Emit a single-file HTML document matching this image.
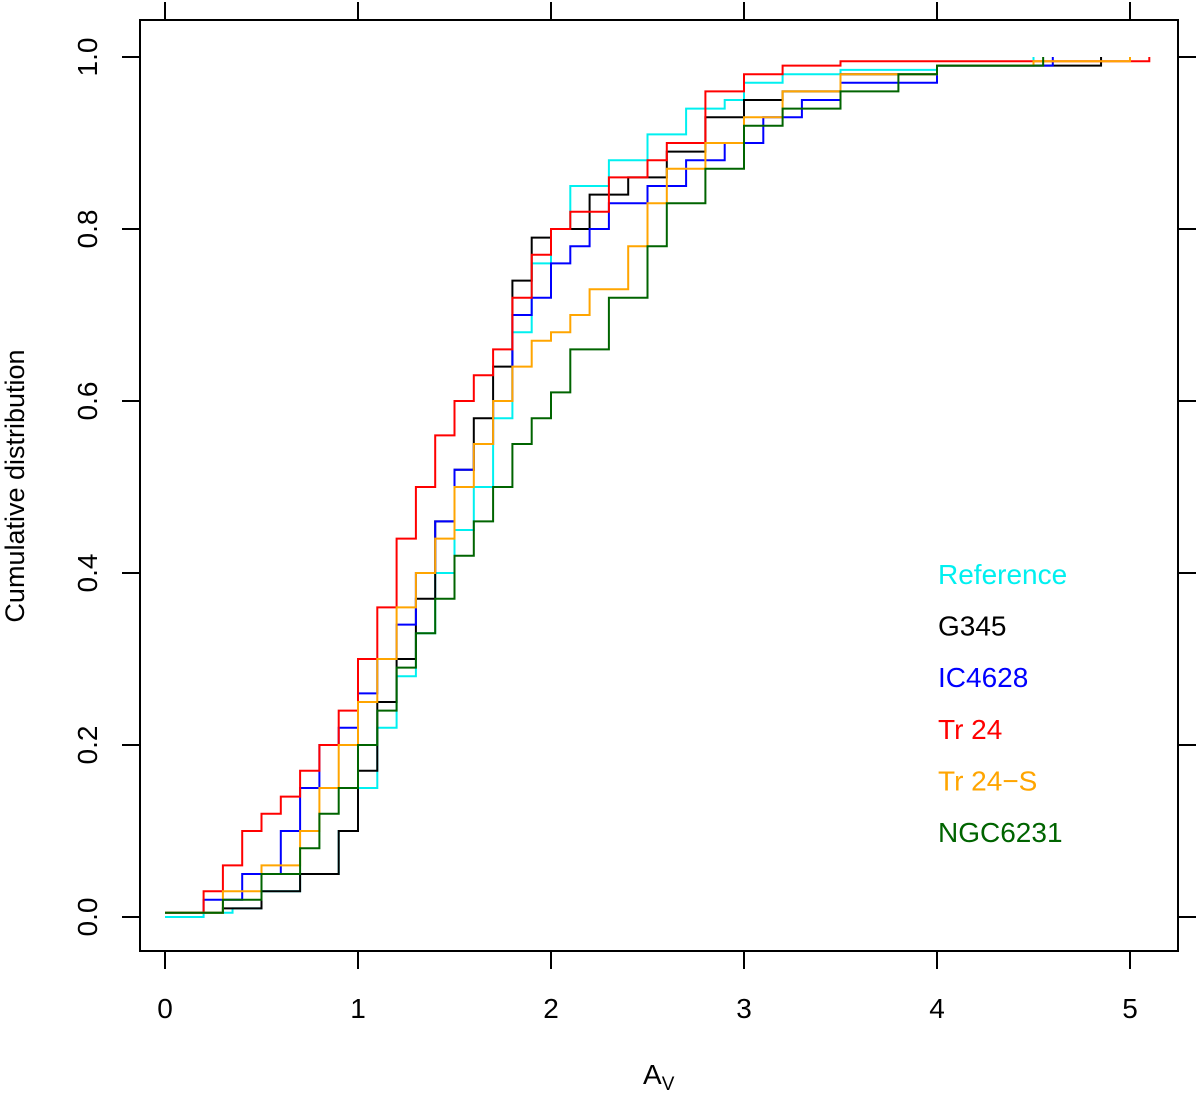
<!DOCTYPE html>
<html><head><meta charset="utf-8"><style>
body{margin:0;background:#fff;}
svg text{font-family:"Liberation Sans",sans-serif;}
</style></head><body>
<svg id="chart" width="1200" height="1092" xmlns="http://www.w3.org/2000/svg">
<rect x="140" y="20" width="1038" height="931" fill="none" stroke="#000" stroke-width="2"/>
<g id="axes"></g>
<g id="series"></g>
<text x="24" y="486" font-size="27" text-anchor="middle" transform="rotate(-90 24 486)">Cumulative distribution</text>
<text x="643" y="1084" font-size="28">A<tspan font-size="19" dy="6">V</tspan></text>
<g id="legend"></g>
</svg>
<script>
const xTicks=[0,1,2,3,4,5];
const yTicks=[0,0.2,0.4,0.6,0.8,1.0];
const yTickLabels=["0.0","0.2","0.4","0.6","0.8","1.0"];
const seriesNames=["Reference","G345","IC4628","Tr 24","Tr 24\u2212S","NGC6231"];
const seriesColors=["#00f0f0","#000000","#0000ff","#ff0000","#ffa500","#006400"];
const refX=[0,0.2,0.35,0.5,0.7,0.9,1.0,1.1,1.2,1.3,1.4,1.5,1.6,1.7,1.8,1.9,2.0,2.1,2.3,2.5,2.7,2.9,3.0,3.2,3.5,4.0,4.5];
const refY=[0,0.005,0.01,0.03,0.05,0.1,0.15,0.22,0.28,0.33,0.4,0.45,0.5,0.58,0.68,0.76,0.8,0.85,0.88,0.91,0.94,0.95,0.97,0.98,0.985,0.99,1.0];
const g345X=[0,0.3,0.5,0.7,0.9,1.0,1.1,1.2,1.3,1.4,1.5,1.6,1.7,1.8,1.9,2.0,2.2,2.4,2.6,2.8,3.0,3.2,3.5,4.0,4.85];
const g345Y=[0.005,0.01,0.03,0.05,0.1,0.17,0.25,0.3,0.37,0.46,0.52,0.58,0.64,0.74,0.79,0.8,0.84,0.86,0.89,0.93,0.95,0.96,0.98,0.99,1.0];
const icX=[0,0.2,0.4,0.6,0.7,0.8,0.9,1.0,1.1,1.2,1.3,1.4,1.5,1.6,1.7,1.8,1.9,2.0,2.1,2.2,2.3,2.5,2.7,2.9,3.1,3.3,3.5,4.0,4.6];
const icY=[0.005,0.02,0.05,0.1,0.15,0.2,0.22,0.26,0.3,0.34,0.4,0.46,0.52,0.55,0.6,0.7,0.72,0.76,0.78,0.8,0.83,0.85,0.88,0.9,0.93,0.95,0.97,0.99,1.0];
const tr24X=[0,0.2,0.3,0.4,0.5,0.6,0.7,0.8,0.9,1.0,1.1,1.2,1.3,1.4,1.5,1.6,1.7,1.8,1.9,2.0,2.1,2.3,2.5,2.6,2.8,3.0,3.2,3.5,5.1];
const tr24Y=[0.005,0.03,0.06,0.1,0.12,0.14,0.17,0.2,0.24,0.3,0.36,0.44,0.5,0.56,0.6,0.63,0.66,0.72,0.77,0.8,0.82,0.86,0.88,0.9,0.96,0.98,0.99,0.995,1.0];
const tr24sX=[0,0.3,0.5,0.7,0.8,0.9,1.0,1.1,1.2,1.3,1.4,1.5,1.6,1.7,1.8,1.9,2.0,2.1,2.2,2.4,2.5,2.6,2.8,3.0,3.2,3.5,4.0,4.5,5.0];
const tr24sY=[0.005,0.03,0.06,0.1,0.15,0.2,0.25,0.3,0.36,0.4,0.44,0.5,0.55,0.6,0.64,0.67,0.68,0.7,0.73,0.78,0.83,0.87,0.9,0.93,0.96,0.98,0.99,0.995,1.0];
const ngcX=[0,0.3,0.5,0.7,0.8,0.9,1.0,1.1,1.2,1.3,1.4,1.5,1.6,1.7,1.8,1.9,2.0,2.1,2.3,2.5,2.6,2.8,3.0,3.2,3.5,3.8,4.0,4.55];
const ngcY=[0.005,0.02,0.05,0.08,0.12,0.15,0.2,0.24,0.29,0.33,0.37,0.42,0.46,0.5,0.55,0.58,0.61,0.66,0.72,0.78,0.83,0.87,0.92,0.94,0.96,0.98,0.99,1.0];
const allX=[refX,g345X,icX,tr24X,tr24sX,ngcX];
const allY=[refY,g345Y,icY,tr24Y,tr24sY,ngcY];

const NS="http://www.w3.org/2000/svg";
const sx=v=>165+v*193;
const sy=v=>917-v*860;
function mk(tag,attrs,parent){const e=document.createElementNS(NS,tag);for(const k in attrs)e.setAttribute(k,attrs[k]);parent.appendChild(e);return e;}
const axes=document.getElementById('axes');
xTicks.forEach(t=>{
  const l=mk('line',{x1:sx(t),x2:sx(t),y1:951,y2:969,stroke:'#000','stroke-width':2},axes);
  
  
  const l2=mk('line',{x1:sx(t),x2:sx(t),y1:20,y2:2,stroke:'#000','stroke-width':2},axes);
  
  
  const tx=mk('text',{x:sx(t),y:1018,'font-size':28,'text-anchor':'middle'},axes);
  tx.textContent=String(t);
  
  
});
yTicks.forEach((t,i)=>{
  const l=mk('line',{x1:122,x2:140,y1:sy(t),y2:sy(t),stroke:'#000','stroke-width':2},axes);
  
  
  const l2=mk('line',{x1:1178,x2:1196,y1:sy(t),y2:sy(t),stroke:'#000','stroke-width':2},axes);
  
  
  const tx=mk('text',{x:97,y:sy(t),'font-size':28,'text-anchor':'middle',transform:`rotate(-90 97 ${sy(t)})`},axes);
  tx.textContent=yTickLabels[i];
  
  
});
const sg=document.getElementById('series');
const lg=document.getElementById('legend');
seriesNames.forEach((n,i)=>{
  const xs=allX[i],ys=allY[i];
  let d=`M${sx(xs[0])},${sy(ys[0])}`;
  for(let k=1;k<xs.length;k++){d+=`H${sx(xs[k])}V${sy(ys[k])}`;}
  const p=mk('path',{d:d,fill:'none',stroke:seriesColors[i],'stroke-width':2},sg);
  
  
  const t=mk('text',{x:938,y:584+i*51.6,'font-size':28,fill:seriesColors[i]},lg);
  t.textContent=n;
  
  
});
</script>
</body></html>
